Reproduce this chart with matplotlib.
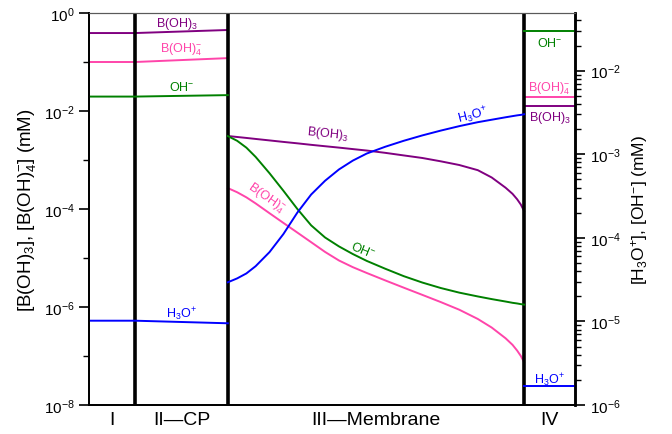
import numpy as np
import matplotlib
matplotlib.use("Agg")
import matplotlib.pyplot as plt
from matplotlib.ticker import LogLocator, NullFormatter, FixedLocator

plt.rcParams["font.family"] = ["Liberation Sans", "DejaVu Sans"]
plt.rcParams["mathtext.fontset"] = "custom"
plt.rcParams["mathtext.rm"] = "Liberation Sans"
plt.rcParams["mathtext.it"] = "Liberation Sans:italic"
plt.rcParams["mathtext.bf"] = "Liberation Sans:bold"

# region edges along the cell (arbitrary position units)
edges = [0.0, 1.0, 3.0, 9.4, 10.5]
region_names = ["I", "II\u2014CP", "III\u2014Membrane", "IV"]

# bulk + CP layer (regions I and II)
x_bulk = [0.0, 1.0, 3.0]
boh3_bulk = [0.39, 0.39, 0.45]
boh4_bulk = [0.100, 0.100, 0.120]
oh_bulk = [4.9e-3, 4.9e-3, 5.1e-3]
h3o_bulk = [1.02e-5, 1.02e-5, 9.5e-6]

# membrane profiles (region III)
x_mem = [3.0, 3.2, 3.4, 3.6, 3.9, 4.2, 4.5, 4.8, 5.1, 5.4, 5.7, 6.0,
         6.4, 6.8, 7.2, 7.6, 8.0, 8.4, 8.7, 9.0, 9.15, 9.25, 9.33, 9.4]
boh3_mem = [3.09e-3, 2.95e-3, 2.82e-3, 2.69e-3, 2.51e-3, 2.34e-3, 2.19e-3, 2.04e-3,
            1.91e-3, 1.79e-3, 1.67e-3, 1.56e-3, 1.40e-3, 1.24e-3, 1.10e-3, 9.4e-4,
            7.9e-4, 6.2e-4, 4.4e-4, 2.72e-4, 2.04e-4, 1.58e-4, 1.23e-4, 9.1e-5]
boh4_mem = [2.67e-4, 2.20e-4, 1.73e-4, 1.30e-4, 8.2e-5, 5.2e-5, 3.31e-5, 2.10e-5,
            1.33e-5, 8.9e-6, 6.5e-6, 4.95e-6, 3.49e-6, 2.48e-6, 1.77e-6, 1.26e-6,
            8.8e-7, 5.7e-7, 3.81e-7, 2.30e-7, 1.69e-7, 1.29e-7, 1.00e-7, 7.5e-8]
oh_mem = [1.65e-3, 1.45e-3, 1.20e-3, 9.3e-4, 5.93e-4, 3.66e-4, 2.22e-4, 1.41e-4,
          1.01e-4, 7.9e-5, 6.4e-5, 5.3e-5, 4.27e-5, 3.48e-5, 2.92e-5, 2.51e-5,
          2.21e-5, 1.99e-5, 1.85e-5, 1.73e-5, 1.67e-5, 1.64e-5, 1.61e-5, 1.59e-5]
h3o_mem = [2.94e-5, 3.27e-5, 3.75e-5, 4.58e-5, 6.75e-5, 1.11e-4, 2.00e-4, 3.30e-4,
           4.82e-4, 6.58e-4, 8.4e-4, 1.02e-3, 1.23e-3, 1.45e-3, 1.68e-3, 1.92e-3,
           2.17e-3, 2.42e-3, 2.59e-3, 2.77e-3, 2.86e-3, 2.92e-3, 2.96e-3, 3.01e-3]

# permeate (region IV)
x_perm = [9.4, 10.5]
boh3_perm = [0.0129, 0.0129]
boh4_perm = [0.019, 0.019]
oh_perm = [0.0295, 0.0295]
h3o_perm = [1.7e-6, 1.7e-6]

PURPLE = "#800080"
PINK = "#ff45aa"
GREEN = "#008000"
BLUE = "#0000ff"
LW = 1.4

fig = plt.figure(figsize=(6.72, 4.35), dpi=100)
ax = fig.add_axes([89 / 672, 1 - 406 / 435, 486 / 672, 392 / 435])
ax2 = ax.twinx()

# boric acid / borate on the left axis
for xs, b3, b4 in [(x_bulk, boh3_bulk, boh4_bulk), (x_mem, boh3_mem, boh4_mem),
                   (x_perm, boh3_perm, boh4_perm)]:
    ax.plot(xs, b3, color=PURPLE, lw=LW)
    ax.plot(xs, b4, color=PINK, lw=LW)

# hydronium / hydroxide on the right axis
for xs, oh, h3o in [(x_bulk, oh_bulk, h3o_bulk), (x_mem, oh_mem, h3o_mem),
                    (x_perm, oh_perm, h3o_perm)]:
    ax2.plot(xs, oh, color=GREEN, lw=LW)
    ax2.plot(xs, h3o, color=BLUE, lw=LW)

ax.set_yscale("log")
ax.set_ylim(1e-8, 1)
ax.set_xlim(edges[0], edges[-1])
ax.yaxis.set_major_locator(FixedLocator([1e-8, 1e-6, 1e-4, 1e-2, 1]))
ax.yaxis.set_minor_locator(FixedLocator([1e-7, 1e-5, 1e-3, 1e-1]))
ax.yaxis.set_minor_formatter(NullFormatter())
ax.tick_params(axis="y", which="major", direction="out", length=7, width=1.2, labelsize=11)
ax.tick_params(axis="y", which="minor", direction="out", length=4, width=1.0)
ax.set_xticks([])
ax.set_ylabel("[B(OH)$_3$], [B(OH)$_4^{-}$] (mM)", fontsize=13.5, labelpad=4)

ax2.set_yscale("log")
ax2.set_ylim(1e-6, 4.9e-2)
ax2.yaxis.set_major_locator(LogLocator(base=10, numticks=10))
ax2.yaxis.set_minor_locator(LogLocator(base=10, subs=np.arange(2, 10), numticks=20))
ax2.yaxis.set_minor_formatter(NullFormatter())
ax2.tick_params(axis="y", which="major", direction="out", length=7, width=1.2, labelsize=11)
ax2.tick_params(axis="y", which="minor", direction="out", length=4, width=1.0)
ax2.set_ylabel("[H$_3$O$^{+}$], [OH$^{-}$] (mM)", fontsize=12.5, labelpad=6)

for a in (ax, ax2):
    a.spines["top"].set_color("0.35")
    a.spines["top"].set_linewidth(0.8)
    a.spines["bottom"].set_linewidth(1.3)
    a.spines["left"].set_linewidth(1.3)
    a.spines["right"].set_linewidth(1.8)

for xb in edges[1:-1]:
    ax.axvline(xb, color="black", lw=2.6, zorder=5)

# region names under the axis
for lo, hi, name in zip(edges[:-1], edges[1:], region_names):
    ax.text((lo + hi) / 2, -0.038, name, transform=ax.get_xaxis_transform(),
            ha="center", va="center", fontsize=14)

fs = 9
ax.text(1.9, 0.62, "B(OH)$_3$", color=PURPLE, fontsize=fs, ha="center", va="center")
ax.text(2.0, 0.19, "B(OH)$_4^{-}$", color=PINK, fontsize=fs, ha="center", va="center")
ax2.text(2.0, 6.4e-3, "OH$^{-}$", color=GREEN, fontsize=fs, ha="center", va="center")
ax2.text(2.0, 1.25e-5, "H$_3$O$^{+}$", color=BLUE, fontsize=fs, ha="center", va="center")

ax.text(5.16, 3.5e-3, "B(OH)$_3$", color=PURPLE, fontsize=fs, ha="center", va="center",
        rotation=-6)
ax.text(3.82, 1.7e-4, "B(OH)$_4^{-}$", color=PINK, fontsize=fs, ha="center", va="center",
        rotation=-35)
ax2.text(5.92, 7.3e-5, "OH$^{-}$", color=GREEN, fontsize=fs, ha="center", va="center",
         rotation=-22)
ax2.text(8.30, 2.95e-3, "H$_3$O$^{+}$", color=BLUE, fontsize=fs, ha="center", va="center",
         rotation=14)

ax2.text(9.95, 0.0215, "OH$^{-}$", color=GREEN, fontsize=fs, ha="center", va="center")
ax.text(9.95, 0.030, "B(OH)$_4^{-}$", color=PINK, fontsize=fs, ha="center", va="center")
ax.text(9.95, 7.6e-3, "B(OH)$_3$", color=PURPLE, fontsize=fs, ha="center", va="center")
ax2.text(9.95, 2.05e-6, "H$_3$O$^{+}$", color=BLUE, fontsize=fs, ha="center", va="center")

fig.savefig("out.png", dpi=100)
